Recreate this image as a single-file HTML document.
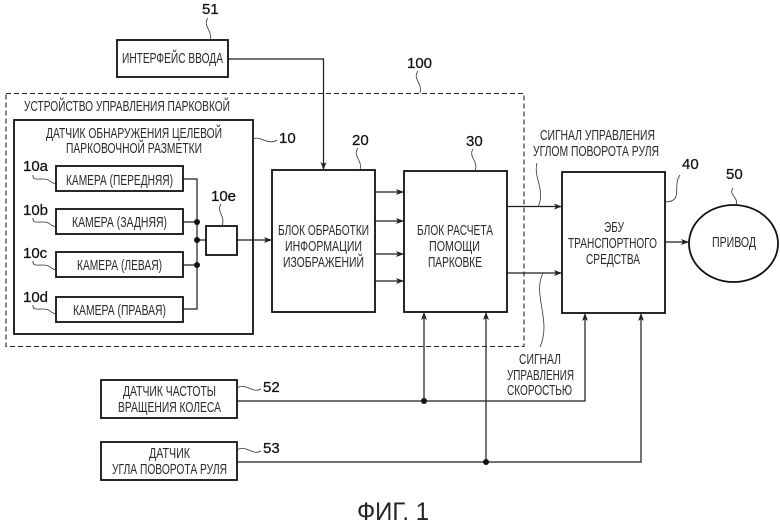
<!DOCTYPE html>
<html lang="ru">
<head>
<meta charset="utf-8">
<title>ФИГ. 1</title>
<style>
html,body{margin:0;padding:0;background:#fff}
svg{display:block;width:780px;height:527px}
text{font-family:"Liberation Sans",sans-serif;fill:#2a2a2a;font-size:14.5px}
.n{font-size:15px;fill:#111;stroke:#111;stroke-width:.25}
.b{fill:#fff;stroke:#111;stroke-width:1.8}
.l{fill:none;stroke:#1c1c1c;stroke-width:1.2}
.s{fill:none;stroke:#333;stroke-width:.8}
</style>
</head>
<body>
<svg xmlns="http://www.w3.org/2000/svg" width="780" height="527" viewBox="0 0 780 527">
<defs>
<marker id="a" markerUnits="userSpaceOnUse" markerWidth="10" markerHeight="8" refX="9" refY="4" orient="auto">
<path d="M1 1 L9 4 L1 7 L3 4 Z" fill="#222"/>
</marker>
</defs>

<rect x="6" y="93.500" width="518" height="253" fill="none" stroke="#222" stroke-width="1.1" stroke-dasharray="5 3"/>

<rect class="b" x="117" y="40" width="111" height="37"/>
<rect class="b" x="14" y="120" width="239" height="214"/>
<rect class="b" x="56" y="166" width="127" height="25"/>
<rect class="b" x="56" y="209" width="127" height="25"/>
<rect class="b" x="56" y="252" width="127" height="25"/>
<rect class="b" x="56" y="297" width="127" height="25"/>
<rect class="b" x="206" y="226" width="31" height="29"/>
<rect class="b" x="272" y="170" width="103" height="142"/>
<rect class="b" x="404" y="171" width="103" height="141"/>
<rect class="b" x="562" y="172" width="103" height="141"/>
<ellipse class="b" cx="733.500" cy="243.500" rx="44.500" ry="38.500"/>
<rect class="b" x="101" y="380" width="136" height="38"/>
<rect class="b" x="101" y="442" width="136" height="38"/>

<path class="l" d="M183 179H197V309H183M183 222H197M183 265H197M197 240H206"/>
<path class="l" marker-end="url(#a)" d="M237 240H272"/>
<path class="l" marker-end="url(#a)" d="M228 59H323.500V170"/>
<path class="l" marker-end="url(#a)" d="M375 192H404"/>
<path class="l" marker-end="url(#a)" d="M375 221H404"/>
<path class="l" marker-end="url(#a)" d="M375 254H404"/>
<path class="l" marker-end="url(#a)" d="M375 281H404"/>
<path class="l" marker-end="url(#a)" d="M507 206.500H562"/>
<path class="l" marker-end="url(#a)" d="M507 273H562"/>
<path class="l" marker-end="url(#a)" d="M665 242H689"/>
<path class="l" marker-end="url(#a)" d="M237 401H585V313"/>
<path class="l" marker-end="url(#a)" d="M237 462H641V313"/>
<path class="l" marker-end="url(#a)" d="M424 401V312"/>
<path class="l" marker-end="url(#a)" d="M486 462V312"/>

<g fill="#111">
<circle cx="197" cy="222" r="3"/>
<circle cx="197" cy="240" r="3"/>
<circle cx="197" cy="265" r="3"/>
<circle cx="424" cy="401" r="3"/>
<circle cx="486" cy="462" r="3"/>
</g>

<path class="s" d="M33 175C32 183 44 176 50 181C52 183 53 183 56 184"/>
<path class="s" d="M33 218C32 226 44 219 50 224C52 226 53 226 56 227"/>
<path class="s" d="M33 261C32 269 44 262 50 267C52 269 53 269 56 270"/>
<path class="s" d="M33 305C32 313 44 306 50 311C52 313 53 313 56 314"/>
<path class="s" d="M221 204C216 212 226 216 222 226"/>
<path class="s" d="M253 139C260 135 268 146 277 140"/>
<path class="s" d="M358 148C352 156 363 160 360 170"/>
<path class="s" d="M473 149C468 157 479 161 475 171"/>
<path class="s" d="M208 18C202 26 213 30 210 40"/>
<path class="s" d="M418 71C412 79 423 83 420 93"/>
<path class="s" d="M537 163C533 178 546 190 538 207"/>
<path class="s" d="M543 273C532 295 552 320 540 347"/>
<path class="s" d="M665 202C684 202 672 186 680 175"/>
<path class="s" d="M733 188C728 195 739 197 736 205"/>
<path class="s" d="M237 388C246 382 252 394 261 389"/>
<path class="s" d="M237 450C246 444 252 456 261 451"/>

<text x="24" y="111" style="font-size:15px" textLength="206" lengthAdjust="spacingAndGlyphs">УСТРОЙСТВО УПРАВЛЕНИЯ ПАРКОВКОЙ</text>
<text x="46" y="138" textLength="176" lengthAdjust="spacingAndGlyphs">ДАТЧИК ОБНАРУЖЕНИЯ ЦЕЛЕВОЙ</text>
<text x="66" y="153" textLength="136" lengthAdjust="spacingAndGlyphs">ПАРКОВОЧНОЙ РАЗМЕТКИ</text>
<text x="66" y="185" textLength="107" lengthAdjust="spacingAndGlyphs">КАМЕРА (ПЕРЕДНЯЯ)</text>
<text x="72" y="227" textLength="95" lengthAdjust="spacingAndGlyphs">КАМЕРА (ЗАДНЯЯ)</text>
<text x="77" y="270" textLength="85" lengthAdjust="spacingAndGlyphs">КАМЕРА (ЛЕВАЯ)</text>
<text x="73" y="315" textLength="93" lengthAdjust="spacingAndGlyphs">КАМЕРА (ПРАВАЯ)</text>
<text x="278" y="235" textLength="91" lengthAdjust="spacingAndGlyphs">БЛОК ОБРАБОТКИ</text>
<text x="285" y="251" textLength="77" lengthAdjust="spacingAndGlyphs">ИНФОРМАЦИИ</text>
<text x="283" y="267" textLength="81" lengthAdjust="spacingAndGlyphs">ИЗОБРАЖЕНИЙ</text>
<text x="417" y="235" textLength="76" lengthAdjust="spacingAndGlyphs">БЛОК РАСЧЕТА</text>
<text x="429" y="251" textLength="51" lengthAdjust="spacingAndGlyphs">ПОМОЩИ</text>
<text x="428" y="267" textLength="54" lengthAdjust="spacingAndGlyphs">ПАРКОВКЕ</text>
<text x="540" y="140" textLength="115" lengthAdjust="spacingAndGlyphs">СИГНАЛ УПРАВЛЕНИЯ</text>
<text x="533" y="156" textLength="126" lengthAdjust="spacingAndGlyphs">УГЛОМ ПОВОРОТА РУЛЯ</text>
<text x="604" y="232" textLength="20" lengthAdjust="spacingAndGlyphs">ЭБУ</text>
<text x="568" y="248" textLength="89" lengthAdjust="spacingAndGlyphs">ТРАНСПОРТНОГО</text>
<text x="586" y="264" textLength="54" lengthAdjust="spacingAndGlyphs">СРЕДСТВА</text>
<text x="712" y="247" textLength="44" lengthAdjust="spacingAndGlyphs">ПРИВОД</text>
<text x="519" y="364" textLength="42" lengthAdjust="spacingAndGlyphs">СИГНАЛ</text>
<text x="507" y="380" textLength="67" lengthAdjust="spacingAndGlyphs">УПРАВЛЕНИЯ</text>
<text x="507" y="395" textLength="65" lengthAdjust="spacingAndGlyphs">СКОРОСТЬЮ</text>
<text x="122" y="63" textLength="101" lengthAdjust="spacingAndGlyphs">ИНТЕРФЕЙС ВВОДА</text>
<text x="123" y="396" textLength="93" lengthAdjust="spacingAndGlyphs">ДАТЧИК ЧАСТОТЫ</text>
<text x="118" y="412" textLength="103" lengthAdjust="spacingAndGlyphs">ВРАЩЕНИЯ КОЛЕСА</text>
<text x="149" y="458" textLength="41" lengthAdjust="spacingAndGlyphs">ДАТЧИК</text>
<text x="112" y="474" textLength="115" lengthAdjust="spacingAndGlyphs">УГЛА ПОВОРОТА РУЛЯ</text>

<text class="n" x="23" y="171">10a</text>
<text class="n" x="23" y="215">10b</text>
<text class="n" x="23" y="258">10c</text>
<text class="n" x="23" y="302">10d</text>
<text class="n" x="211" y="201">10e</text>
<text class="n" x="279" y="143">10</text>
<text class="n" x="352" y="145">20</text>
<text class="n" x="466" y="146">30</text>
<text class="n" x="682" y="169">40</text>
<text class="n" x="726" y="179">50</text>
<text class="n" x="202" y="14">51</text>
<text class="n" x="263" y="392">52</text>
<text class="n" x="263" y="453">53</text>
<text class="n" x="407" y="68">100</text>

<text x="357" y="520" style="font-size:25px;fill:#222" textLength="72" lengthAdjust="spacingAndGlyphs">ФИГ. 1</text>
</svg>
</body>
</html>
